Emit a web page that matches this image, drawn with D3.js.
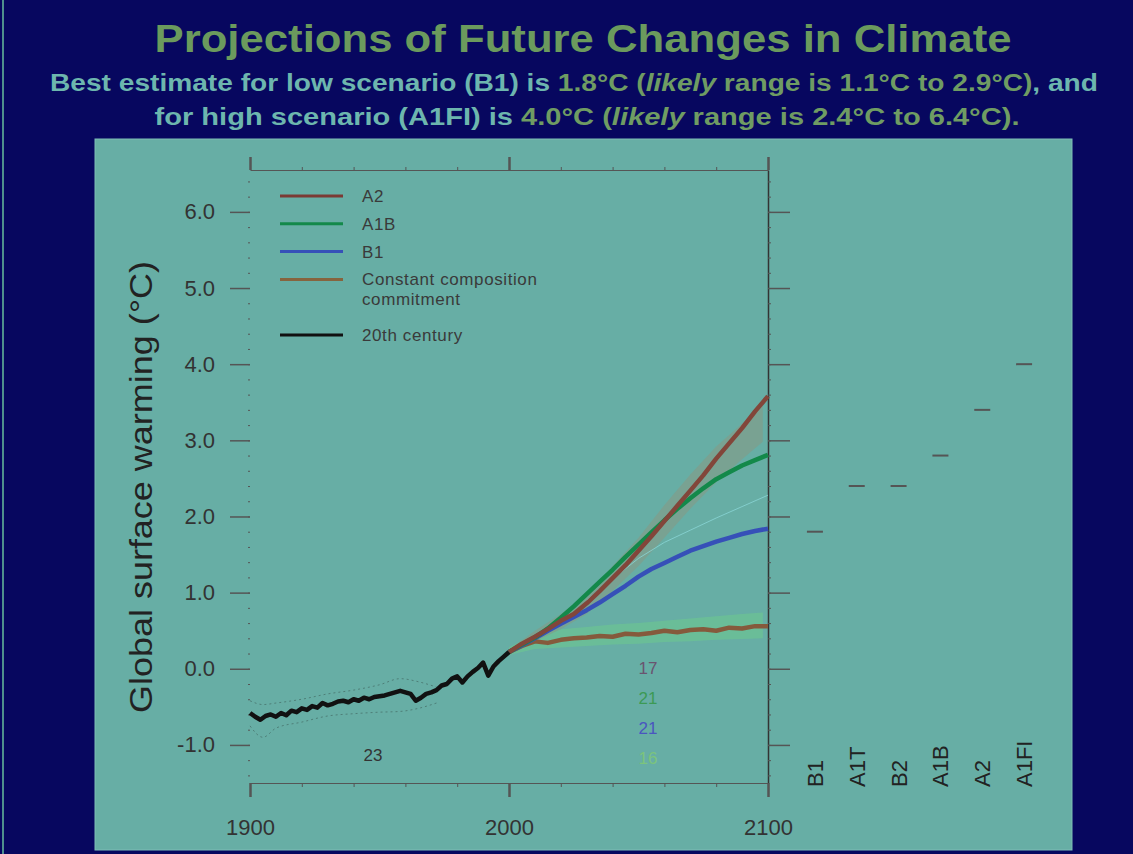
<!DOCTYPE html>
<html>
<head>
  <title>Projections of Future Changes in Climate</title>
  <script src="https://d3js.org/d3.v7.min.js"></script>
  <style>
    body {
      margin: 0px;
      padding: 0px;
      background: #07075f;
    }
    .axis text {
      font-family: "Liberation Sans", Arial, sans-serif;
      font-size: 22px;
      fill: #333;
    }
    .axis line {
      stroke: #555;
    }
  </style>
</head>
<body>
  <div id="chart"></div>
  <script>

    /* DATA */

    // 20th century observed/simulated warming
    let years20 = [1900, 1902, 1904, 1906, 1908, 1910, 1912, 1914, 1916, 1918,
                   1920, 1922, 1924, 1926, 1928, 1930, 1932, 1934, 1936, 1938,
                   1940, 1942, 1944, 1946, 1948, 1950, 1952, 1954, 1956, 1958,
                   1960, 1962, 1964, 1966, 1968, 1970, 1972, 1974, 1976, 1978,
                   1980, 1982, 1984, 1986, 1988, 1990, 1992, 1994, 1996, 1998, 2000];
    let temps20 = [-0.58, -0.63, -0.67, -0.62, -0.60, -0.63, -0.58, -0.61, -0.55, -0.57,
                   -0.52, -0.54, -0.49, -0.51, -0.45, -0.48, -0.46, -0.43, -0.42, -0.44,
                   -0.40, -0.42, -0.38, -0.40, -0.37, -0.36, -0.35, -0.33, -0.31, -0.29,
                   -0.31, -0.33, -0.42, -0.38, -0.33, -0.31, -0.28, -0.22, -0.20, -0.13,
                   -0.10, -0.18, -0.10, -0.04, 0.01, 0.08, -0.09, 0.03, 0.10, 0.16, 0.22];

    // 20th century spread (dotted outline)
    let spreadYears = [1900, 1905, 1910, 1920, 1930, 1940, 1950, 1958, 1965, 1972];
    let spreadHigh = [-0.42, -0.47, -0.45, -0.40, -0.33, -0.28, -0.21, -0.13, -0.17, -0.24];
    let spreadLow = [-0.75, -0.90, -0.78, -0.70, -0.62, -0.59, -0.57, -0.56, -0.52, -0.45];

    // scenario projections, 2000-2100
    let projYears = [2000, 2005, 2010, 2015, 2020, 2025, 2030, 2035, 2040, 2045, 2050,
                     2055, 2060, 2065, 2070, 2075, 2080, 2085, 2090, 2095, 2100];
    let a2 = [0.22, 0.33, 0.42, 0.52, 0.63, 0.72, 0.86, 1.02, 1.19, 1.36, 1.55,
              1.74, 1.94, 2.14, 2.34, 2.54, 2.76, 2.96, 3.16, 3.38, 3.58];
    let a1b = [0.22, 0.32, 0.41, 0.53, 0.67, 0.82, 0.98, 1.14, 1.30, 1.47, 1.63,
               1.79, 1.95, 2.10, 2.24, 2.37, 2.49, 2.58, 2.67, 2.74, 2.81];
    let b1 = [0.22, 0.31, 0.40, 0.50, 0.59, 0.68, 0.77, 0.87, 0.98, 1.09, 1.21,
              1.31, 1.39, 1.47, 1.55, 1.61, 1.67, 1.72, 1.77, 1.81, 1.84];
    let constant = [0.22, 0.30, 0.36, 0.34, 0.38, 0.40, 0.41, 0.43, 0.42, 0.46, 0.45,
                    0.47, 0.50, 0.48, 0.51, 0.52, 0.50, 0.54, 0.53, 0.56, 0.56];

    // uncertainty shading
    let bandYears = [2000, 2010, 2020, 2030, 2040, 2050, 2060, 2070, 2080, 2090, 2098];
    let a2High = [0.25, 0.50, 0.72, 0.98, 1.35, 1.72, 2.15, 2.55, 2.92, 3.22, 3.45];
    let a2Low = [0.18, 0.36, 0.52, 0.72, 1.02, 1.35, 1.72, 2.10, 2.45, 2.75, 2.98];
    let constHigh = [0.28, 0.46, 0.52, 0.55, 0.58, 0.60, 0.63, 0.66, 0.69, 0.72, 0.74];
    let constLow = [0.18, 0.26, 0.28, 0.30, 0.32, 0.33, 0.35, 0.36, 0.38, 0.39, 0.40];
    let b1HighYears = [2030, 2040, 2050, 2060, 2070, 2080, 2090, 2100];
    let b1High = [0.90, 1.18, 1.45, 1.66, 1.82, 1.98, 2.13, 2.28];

    // best estimates at 2090-2099 per scenario (right panel)
    let scenarios = ["B1", "A1T", "B2", "A1B", "A2", "A1FI"];
    let bestEstimates = [1.8, 2.4, 2.4, 2.8, 3.4, 4.0];

    // model counts
    let modelCounts = ["17", "21", "21", "16"];
    let modelCountColors = ["#6a5470", "#3c9a55", "#4a55c0", "#7cc47c"];

    // axis tick values / labels
    let yTicks = [-1, 0, 1, 2, 3, 4, 5, 6];
    let yTickLabels = ["-1.0", "0.0", "1.0", "2.0", "3.0", "4.0", "5.0", "6.0"];
    let xTicks = [1900, 2000, 2100];

    let legendLabels = [["A2"], ["A1B"], ["B1"], ["Constant composition", "commitment"], ["20th century"]];
    let legendColors = ["#7b3a34", "#13894a", "#3650b8", "#86643e", "#111"];

    /* SVG CANVAS */

    let width = 1133;
    let height = 854;

    let svg = d3.select("#chart")
      .append("svg")
      .attr("width", width)
      .attr("height", height);

    svg.append("rect")
      .attr("x", 0).attr("y", 0)
      .attr("width", width).attr("height", height)
      .attr("fill", "#07075f");

    svg.append("rect")
      .attr("x", 2).attr("y", 0)
      .attr("width", 2).attr("height", height)
      .attr("fill", "#4f8f8d");

    // teal panel
    svg.append("rect")
      .attr("x", 95).attr("y", 139)
      .attr("width", 977).attr("height", 711)
      .attr("fill", "#67aea5")
      .attr("stroke", "#7fbdb6")
      .attr("stroke-width", 1);

    /* TITLES */

    svg.append("text")
      .attr("x", 583)
      .attr("y", 52)
      .attr("text-anchor", "middle")
      .attr("font-family", "'Liberation Sans', Arial, sans-serif")
      .attr("font-weight", "bold")
      .attr("font-size", 38)
      .attr("textLength", 857)
      .attr("lengthAdjust", "spacingAndGlyphs")
      .attr("fill", "#6b9a5d")
      .text("Projections of Future Changes in Climate");

    let teal = "#6db6ae";
    let green = "#6f9c63";

    function subtitle(yPos, cx, len, parts) {
      let t = svg.append("text")
        .attr("x", cx)
        .attr("y", yPos)
        .attr("text-anchor", "middle")
        .attr("font-family", "'Liberation Sans', Arial, sans-serif")
        .attr("font-weight", "bold")
        .attr("font-size", 24)
        .attr("textLength", len)
        .attr("lengthAdjust", "spacingAndGlyphs");
      parts.forEach(function(p) {
        t.append("tspan")
          .attr("fill", p[1])
          .attr("font-style", p[2] ? "italic" : "normal")
          .text(p[0]);
      });
    }

    subtitle(91, 574, 1048, [
      ["Best estimate for low scenario (B1) is ", teal],
      ["1.8°C (", green],
      ["likely", green, true],
      [" range is 1.1°C to 2.9°C)", green],
      [", and", teal]
    ]);

    subtitle(125, 587, 865, [
      ["for high scenario (A1FI) is ", teal],
      ["4.0°C (", green],
      ["likely", green, true],
      [" range is 2.4°C to 6.4°C).", green]
    ]);

    /* SCALES */

    let xScale = d3.scaleLinear()
      .domain([1900, 2100])
      .range([250, 768]);

    let yScale = d3.scaleLinear()
      .domain([-1.5, 6.55])
      .range([783, 170]);

    let catScale = d3.scaleBand()
      .domain(scenarios)
      .range([794, 1045]);

    /* AXES */

    // left: dotted minor ticks + major ticks with labels
    svg.append("g")
      .attr("class", "axis")
      .attr("transform", "translate(250,0)")
      .call(d3.axisLeft(yScale).tickValues(d3.range(-1.4, 6.5, 0.2)).tickSize(2).tickFormat(""))
      .call(function(g) { g.select(".domain").remove(); });

    svg.append("g")
      .attr("class", "axis")
      .attr("transform", "translate(250,0)")
      .call(d3.axisLeft(yScale).tickValues(yTicks).tickSize(20).tickPadding(15)
        .tickFormat(function(d, i) { return yTickLabels[i]; }))
      .call(function(g) {
        g.select(".domain").remove();
        g.selectAll("line").attr("stroke-width", 1.5);
      });

    // right axis
    svg.append("g")
      .attr("class", "axis")
      .attr("transform", "translate(768,0)")
      .call(d3.axisRight(yScale).tickValues(d3.range(-1.4, 6.5, 0.2)).tickSize(3).tickFormat("").tickSizeOuter(0))
      .call(function(g) {
        g.select(".domain").attr("stroke", "#333").attr("stroke-width", 1.5);
      });

    svg.append("g")
      .attr("class", "axis")
      .attr("transform", "translate(768,0)")
      .call(d3.axisRight(yScale).tickValues(yTicks).tickSize(22).tickFormat(""))
      .call(function(g) {
        g.select(".domain").remove();
        g.selectAll("line").attr("stroke", "#444").attr("stroke-width", 1.5);
      });

    // bottom axis
    svg.append("g")
      .attr("class", "axis")
      .attr("transform", "translate(0,783)")
      .call(d3.axisBottom(xScale).tickValues(d3.range(1920, 2100, 20)).tickSize(4).tickFormat("").tickSizeOuter(0))
      .call(function(g) { g.select(".domain").attr("stroke", "#555"); });

    svg.append("g")
      .attr("class", "axis")
      .attr("transform", "translate(0,783)")
      .call(d3.axisBottom(xScale).tickValues(xTicks).tickSize(14).tickPadding(22).tickFormat(d3.format("d")))
      .call(function(g) {
        g.select(".domain").remove();
        g.selectAll("line").attr("stroke", "#333").attr("stroke-width", 2.5);
      });

    // top axis
    svg.append("g")
      .attr("class", "axis")
      .attr("transform", "translate(0,170)")
      .call(d3.axisTop(xScale).tickValues(d3.range(1920, 2100, 20)).tickSize(3).tickFormat("").tickSizeOuter(0))
      .call(function(g) { g.select(".domain").attr("stroke", "#555"); });

    svg.append("g")
      .attr("class", "axis")
      .attr("transform", "translate(0,170)")
      .call(d3.axisTop(xScale).tickValues(xTicks).tickSize(13).tickFormat(""))
      .call(function(g) {
        g.select(".domain").remove();
        g.selectAll("line").attr("stroke", "#333").attr("stroke-width", 2.5);
      });

    /* Y AXIS LABEL */

    svg.append("text")
      .attr("transform", "rotate(-90)")
      .attr("x", -487)
      .attr("y", 152)
      .attr("text-anchor", "middle")
      .attr("font-family", "'Liberation Sans', Arial, sans-serif")
      .attr("font-size", 31)
      .attr("textLength", 452)
      .attr("lengthAdjust", "spacingAndGlyphs")
      .attr("fill", "#222")
      .text("Global surface warming (°C)");

    /* BANDS */

    function pairs(xs, ys) {
      return xs.map(function(d, i) { return [d, ys[i]]; });
    }

    let area = d3.area()
      .x(function(d) { return xScale(d[0]); })
      .y0(function(d) { return yScale(d[1]); })
      .y1(function(d) { return yScale(d[2]); })
      .curve(d3.curveLinear);

    function bandData(xs, lo, hi) {
      return xs.map(function(d, i) { return [d, lo[i], hi[i]]; });
    }

    svg.append("path")
      .datum(bandData(bandYears, constLow, constHigh))
      .attr("d", area)
      .attr("fill", "#6fd08a")
      .attr("opacity", 0.45);

    svg.append("path")
      .datum(bandData(bandYears, a2Low, a2High))
      .attr("d", area)
      .attr("fill", "#869a86")
      .attr("opacity", 0.6);

    let line = d3.line()
      .x(function(d) { return xScale(d[0]); })
      .y(function(d) { return yScale(d[1]); });

    svg.append("path")
      .datum(pairs(b1HighYears, b1High))
      .attr("d", line)
      .attr("fill", "none")
      .attr("stroke", "#8ad6d6")
      .attr("stroke-width", 1)
      .attr("opacity", 0.8);

    // 20th century spread
    [spreadHigh, spreadLow].forEach(function(s) {
      svg.append("path")
        .datum(pairs(spreadYears, s))
        .attr("d", line.curve(d3.curveMonotoneX))
        .attr("fill", "none")
        .attr("stroke", "#4e7f78")
        .attr("stroke-width", 1)
        .attr("stroke-dasharray", "2,3");
    });
    line.curve(d3.curveLinear);

    /* LINES */

    let series = [
      {values: constant, color: "#855a3c"},
      {values: b1, color: "#3650b8"},
      {values: a1b, color: "#13894a"},
      {values: a2, color: "#82463a"}
    ];

    series.forEach(function(s) {
      svg.append("path")
        .datum(pairs(projYears, s.values))
        .attr("d", line)
        .attr("fill", "none")
        .attr("stroke", s.color)
        .attr("stroke-width", 4.5)
        .attr("stroke-linejoin", "round");
    });

    svg.append("path")
      .datum(pairs(years20, temps20))
      .attr("d", line)
      .attr("fill", "none")
      .attr("stroke", "#111")
      .attr("stroke-width", 4.5)
      .attr("stroke-linejoin", "round");

    /* MODEL COUNTS */

    svg.append("text")
      .attr("x", 373)
      .attr("y", 761)
      .attr("text-anchor", "middle")
      .attr("font-family", "'Liberation Sans', Arial, sans-serif")
      .attr("font-size", 17)
      .attr("fill", "#333")
      .text("23");

    svg.selectAll(".count")
      .data(modelCounts)
      .enter()
      .append("text")
        .attr("class", "count")
        .attr("x", 648)
        .attr("y", function(d, i) { return 674 + i * 30; })
        .attr("text-anchor", "middle")
        .attr("font-family", "'Liberation Sans', Arial, sans-serif")
        .attr("font-size", 17)
        .attr("fill", function(d, i) { return modelCountColors[i]; })
        .text(function(d) { return d; });

    /* LEGEND */

    let legendRows = [0, 1, 2, 3, 5];
    let legend = svg.selectAll(".legend")
      .data(legendLabels)
      .enter()
      .append("g")
        .attr("class", "legend")
        .attr("transform", function(d, i) { return "translate(280," + (196 + legendRows[i] * 27.8) + ")"; });

    legend.append("line")
      .attr("x1", 0).attr("x2", 63)
      .attr("y1", 0).attr("y2", 0)
      .attr("stroke", function(d, i) { return legendColors[i]; })
      .attr("stroke-width", 3);

    legend.append("text")
      .attr("x", 82)
      .attr("y", 6)
      .attr("font-family", "'Liberation Sans', Arial, sans-serif")
      .attr("font-size", 17)
      .attr("letter-spacing", 0.6)
      .attr("fill", "#3a3a3a")
      .each(function(d) {
        let t = d3.select(this);
        d.forEach(function(s, j) {
          t.append("tspan").attr("x", 82).attr("dy", j === 0 ? 0 : 20).text(s);
        });
      });

    /* RIGHT PANEL: BEST ESTIMATES */

    svg.selectAll(".best")
      .data(bestEstimates)
      .enter()
      .append("line")
        .attr("class", "best")
        .attr("x1", function(d, i) { return catScale(scenarios[i]) + catScale.bandwidth() / 2 - 8; })
        .attr("x2", function(d, i) { return catScale(scenarios[i]) + catScale.bandwidth() / 2 + 8; })
        .attr("y1", function(d) { return yScale(d); })
        .attr("y2", function(d) { return yScale(d); })
        .attr("stroke", "#555")
        .attr("stroke-width", 2);

    svg.selectAll(".scen")
      .data(scenarios)
      .enter()
      .append("text")
        .attr("class", "scen")
        .attr("transform", function(d) {
          return "translate(" + (catScale(d) + catScale.bandwidth() / 2 + 8) + ",787) rotate(-90)";
        })
        .attr("font-family", "'Liberation Sans', Arial, sans-serif")
        .attr("font-size", 22)
        .attr("fill", "#222")
        .text(function(d) { return d; });

  </script>
</body>
</html>
